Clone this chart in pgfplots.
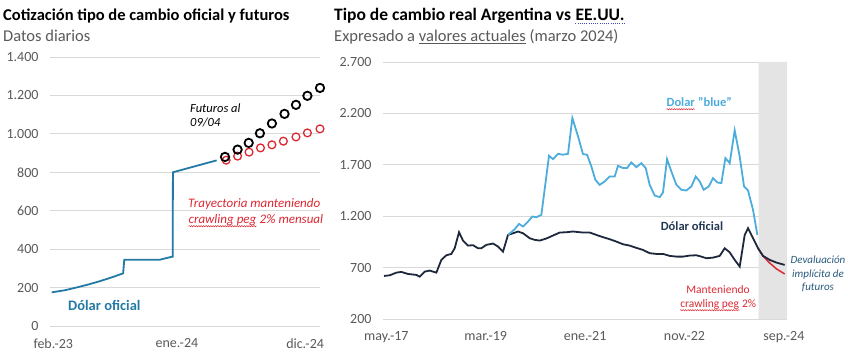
\documentclass[border=0pt]{standalone}
\usepackage{pgfplots}
\pgfplotsset{compat=1.18}
\usetikzlibrary{decorations.pathmorphing}
\usepackage{fontspec}
\setmainfont{Carlito}
\definecolor{tealline}{RGB}{35,122,165}
\definecolor{blueline}{RGB}{76,172,220}
\definecolor{darkline}{RGB}{30,40,60}
\definecolor{redc}{RGB}{220,40,50}
\definecolor{oflabel}{RGB}{35,55,80}
\definecolor{devtext}{RGB}{40,90,125}
\definecolor{shade}{RGB}{228,228,228}
\definecolor{gridgray}{RGB}{217,217,217}
\definecolor{tickgray}{RGB}{89,89,89}
\definecolor{dotblue}{RGB}{70,70,200}
\newcommand\wavy[1]{\tikz[baseline=(t.base)]{\node[inner sep=0,anchor=base](t) at (0,0){#1};
  \draw[redc, line width=0.5bp, decorate, decoration={snake, amplitude=0.6bp, segment length=2.4bp}]
   ([yshift=-2.2bp]t.base west) -- ([yshift=-2.2bp]t.base east);}}
\newcommand\dotul[1]{\tikz[baseline=(t.base)]{\node[inner sep=0,anchor=base](t) at (0,0){#1};
  \draw[dotblue, line width=0.7bp, dash pattern=on 1bp off 1.2bp]
   ([yshift=-2.5bp]t.base west) -- ([yshift=-2.5bp]t.base east);}}
\pgfplotsset{
  base/.style={
    anchor=south west, scale only axis, clip=false,
    ymajorgrids, grid style={line width=0.9bp, gridgray},
    axis line style={draw=none}, major tick style={draw=none},
    tick label style={font=\fontsize{14bp}{16bp}\selectfont, text=tickgray},
    yticklabel style={xshift=-8bp},
    xticklabel style={yshift=-9bp},
    /pgf/number format/1000 sep={.},
    /pgf/number format/assume math mode=true,
  }
}
\begin{document}
\begin{tikzpicture}
\useasboundingbox (0,0) rectangle (848bp,354bp);
% ---------- left chart ----------
\begin{axis}[base, at={(50bp,28bp)}, width=270bp, height=269bp,
  xmin=-0.29, xmax=23.3, ymin=0, ymax=1400,
  ytick={0,200,...,1400},
  xtick={0,10.8,22}, xticklabels={feb.-23,ene.-24,dic.-24}]
\addplot[tealline, line width=1.8bp] coordinates {
 (-0.14,175) (1,186) (2,200) (3,215) (4,232) (5,251) (6.1,274) (6.2,345)
 (9.3,345) (10.34,360) (10.43,360) (10.45,800) (14.27,862)};
\addplot[only marks, mark=o, mark size=3.9bp, redc, mark options={line width=1.3bp}] coordinates {
 (15.1,863) (16.1,884) (17.1,905) (18.1,927) (19.1,943) (20.1,962) (21.2,984) (22.2,1005) (23.3,1026)};
\addplot[only marks, mark=o, mark size=4.2bp, black, mark options={line width=1.8bp}] coordinates {
 (15.0,880) (16.1,918) (17.07,953) (18.05,1003) (19.1,1054) (20.2,1104) (21.2,1151) (22.2,1198) (23.3,1239)};
\end{axis}
% ---------- right chart ----------
\begin{axis}[base, at={(383bp,35bp)}, width=404bp, height=257bp,
  xmin=-0.74, xmax=88.7, ymin=200, ymax=2700,
  ytick={200,700,...,2700},
  xtick={0,22,44,66,88}, xticklabels={may.-17,mar.-19,ene.-21,nov.-22,sep.-24}]
\addplot[draw=none, fill=shade] coordinates {(82.4,200) (82.4,2700) (88.7,2700) (88.7,200)} \closedcycle;
\addplot[redc, line width=1.5bp] coordinates {
 (82.29,888) (83.39,812) (84.87,745) (86.35,688) (88.19,638)};
\addplot[darkline, line width=1.8bp] coordinates {
 (-0.52,619) (0.74,625) (2.21,651) (3.32,658) (4.80,638) (6.64,629) (7.38,612) (8.49,661) (9.59,671) (11.07,651)
 (12.18,775) (13.28,820) (14.39,833) (15.13,888) (16.09,1044) (16.97,963) (18.08,914) (19.19,918) (20.30,888)
 (21.03,888) (22.14,921) (23.62,934) (24.72,905) (25.83,856) (26.94,1018) (28.04,1034) (29.15,1051) (30.26,1034)
 (31.73,986) (32.84,970) (33.95,963) (35.42,983) (36.90,1012) (38.38,1041) (39.85,1044) (41.33,1051) (43.54,1041)
 (45.02,1041) (46.49,1018) (47.97,996) (49.45,976) (50.92,953) (52.40,927) (53.87,914) (55.35,892) (56.83,872)
 (58.30,840) (59.78,833) (61.25,833) (62.73,814) (64.21,807) (65.68,807) (67.16,817) (68.63,820) (69.74,807)
 (70.85,791) (72.32,797) (73.80,814) (74.91,888) (76.01,849) (77.12,775) (78.23,710) (79.34,1018) (80.07,1083)
 (81.18,986) (82.29,888) (83.39,814) (84.87,775) (86.35,749) (88.19,726)};
\addplot[blueline, line width=1.8bp] coordinates {
 (26.94,1018) (28.41,1073) (29.37,1125) (30.26,1099) (31.37,1148) (32.32,1197) (33.21,1190) (34.32,1213)
 (36.01,1788) (36.90,1755) (38.01,1807) (39.11,1798) (40.22,1807) (41.18,2155) (42.44,1976) (43.54,1804)
 (44.43,1798) (45.39,1684) (46.27,1554) (47.23,1505) (48.34,1538) (49.45,1586) (50.55,1586) (51.29,1690)
 (52.40,1668) (53.28,1668) (54.24,1723) (55.35,1677) (56.46,1716) (57.42,1668) (58.30,1505) (59.41,1401)
 (60.52,1385) (61.25,1431) (62.14,1755) (63.10,1635) (64.21,1505) (65.31,1457) (66.42,1450) (67.53,1489)
 (68.49,1586) (69.37,1538) (70.26,1457) (71.37,1489) (72.32,1570) (73.28,1528) (74.17,1522) (75.06,1765)
 (76.01,1716) (77.12,2035) (78.23,1781) (79.19,1489) (80.07,1450) (81.18,1262) (82.14,1018)};
\end{axis}
% ---------- titles ----------
\node[anchor=base west, inner sep=0, font=\bfseries\fontsize{16.5bp}{18bp}\selectfont] at (3bp,333bp)
  {Cotización tipo de cambio oficial y futuros};
\node[anchor=base west, inner sep=0, text=tickgray, font=\fontsize{16.5bp}{18bp}\selectfont] at (3bp,312bp)
  {Datos diarios};
\node[anchor=base west, inner sep=0, font=\bfseries\fontsize{17.5bp}{19bp}\selectfont] at (334bp,333bp)
  {Tipo de cambio real Argentina vs \dotul{EE.UU.}};
\node[anchor=base west, inner sep=0, text=tickgray, font=\fontsize{16.5bp}{18bp}\selectfont] at (334bp,312bp)
  {Expresado a \underline{valores actuales} (marzo 2024)};
% ---------- left annotations ----------
\node[anchor=base west, inner sep=0, align=left, font=\itshape\fontsize{12.5bp}{14bp}\selectfont] at (190bp,227bp)
  {Futuros al\\09/04};
\node[anchor=base west, inner sep=0, align=left, text=redc, font=\itshape\fontsize{13bp}{16bp}\selectfont] at (188bp,130bp)
  {Trayectoria manteniendo\\\wavy{crawling peg} 2\% mensual};
\node[anchor=base west, inner sep=0, text=tealline, font=\bfseries\fontsize{14.5bp}{16bp}\selectfont] at (68bp,43bp)
  {Dólar oficial};
% ---------- right annotations ----------
\node[anchor=base, inner sep=0, text=blueline, font=\bfseries\fontsize{12.5bp}{15bp}\selectfont] at (699bp,247bp)
  {\wavy{Dolar} "blue"};
\node[anchor=base, inner sep=0, text=oflabel, font=\bfseries\fontsize{12.5bp}{15bp}\selectfont] at (692bp,123bp)
  {Dólar oficial};
\node[anchor=base, inner sep=0, align=center, text=redc, font=\fontsize{11.5bp}{14bp}\selectfont] at (718bp,46bp)
  {Manteniendo\\\wavy{crawling peg} 2\%};
\node[anchor=base, inner sep=0, align=center, text=devtext, font=\itshape\fontsize{11bp}{13.5bp}\selectfont] at (818bp,63bp)
  {Devaluación\\implícita de\\futuros};
\end{tikzpicture}
\end{document}
